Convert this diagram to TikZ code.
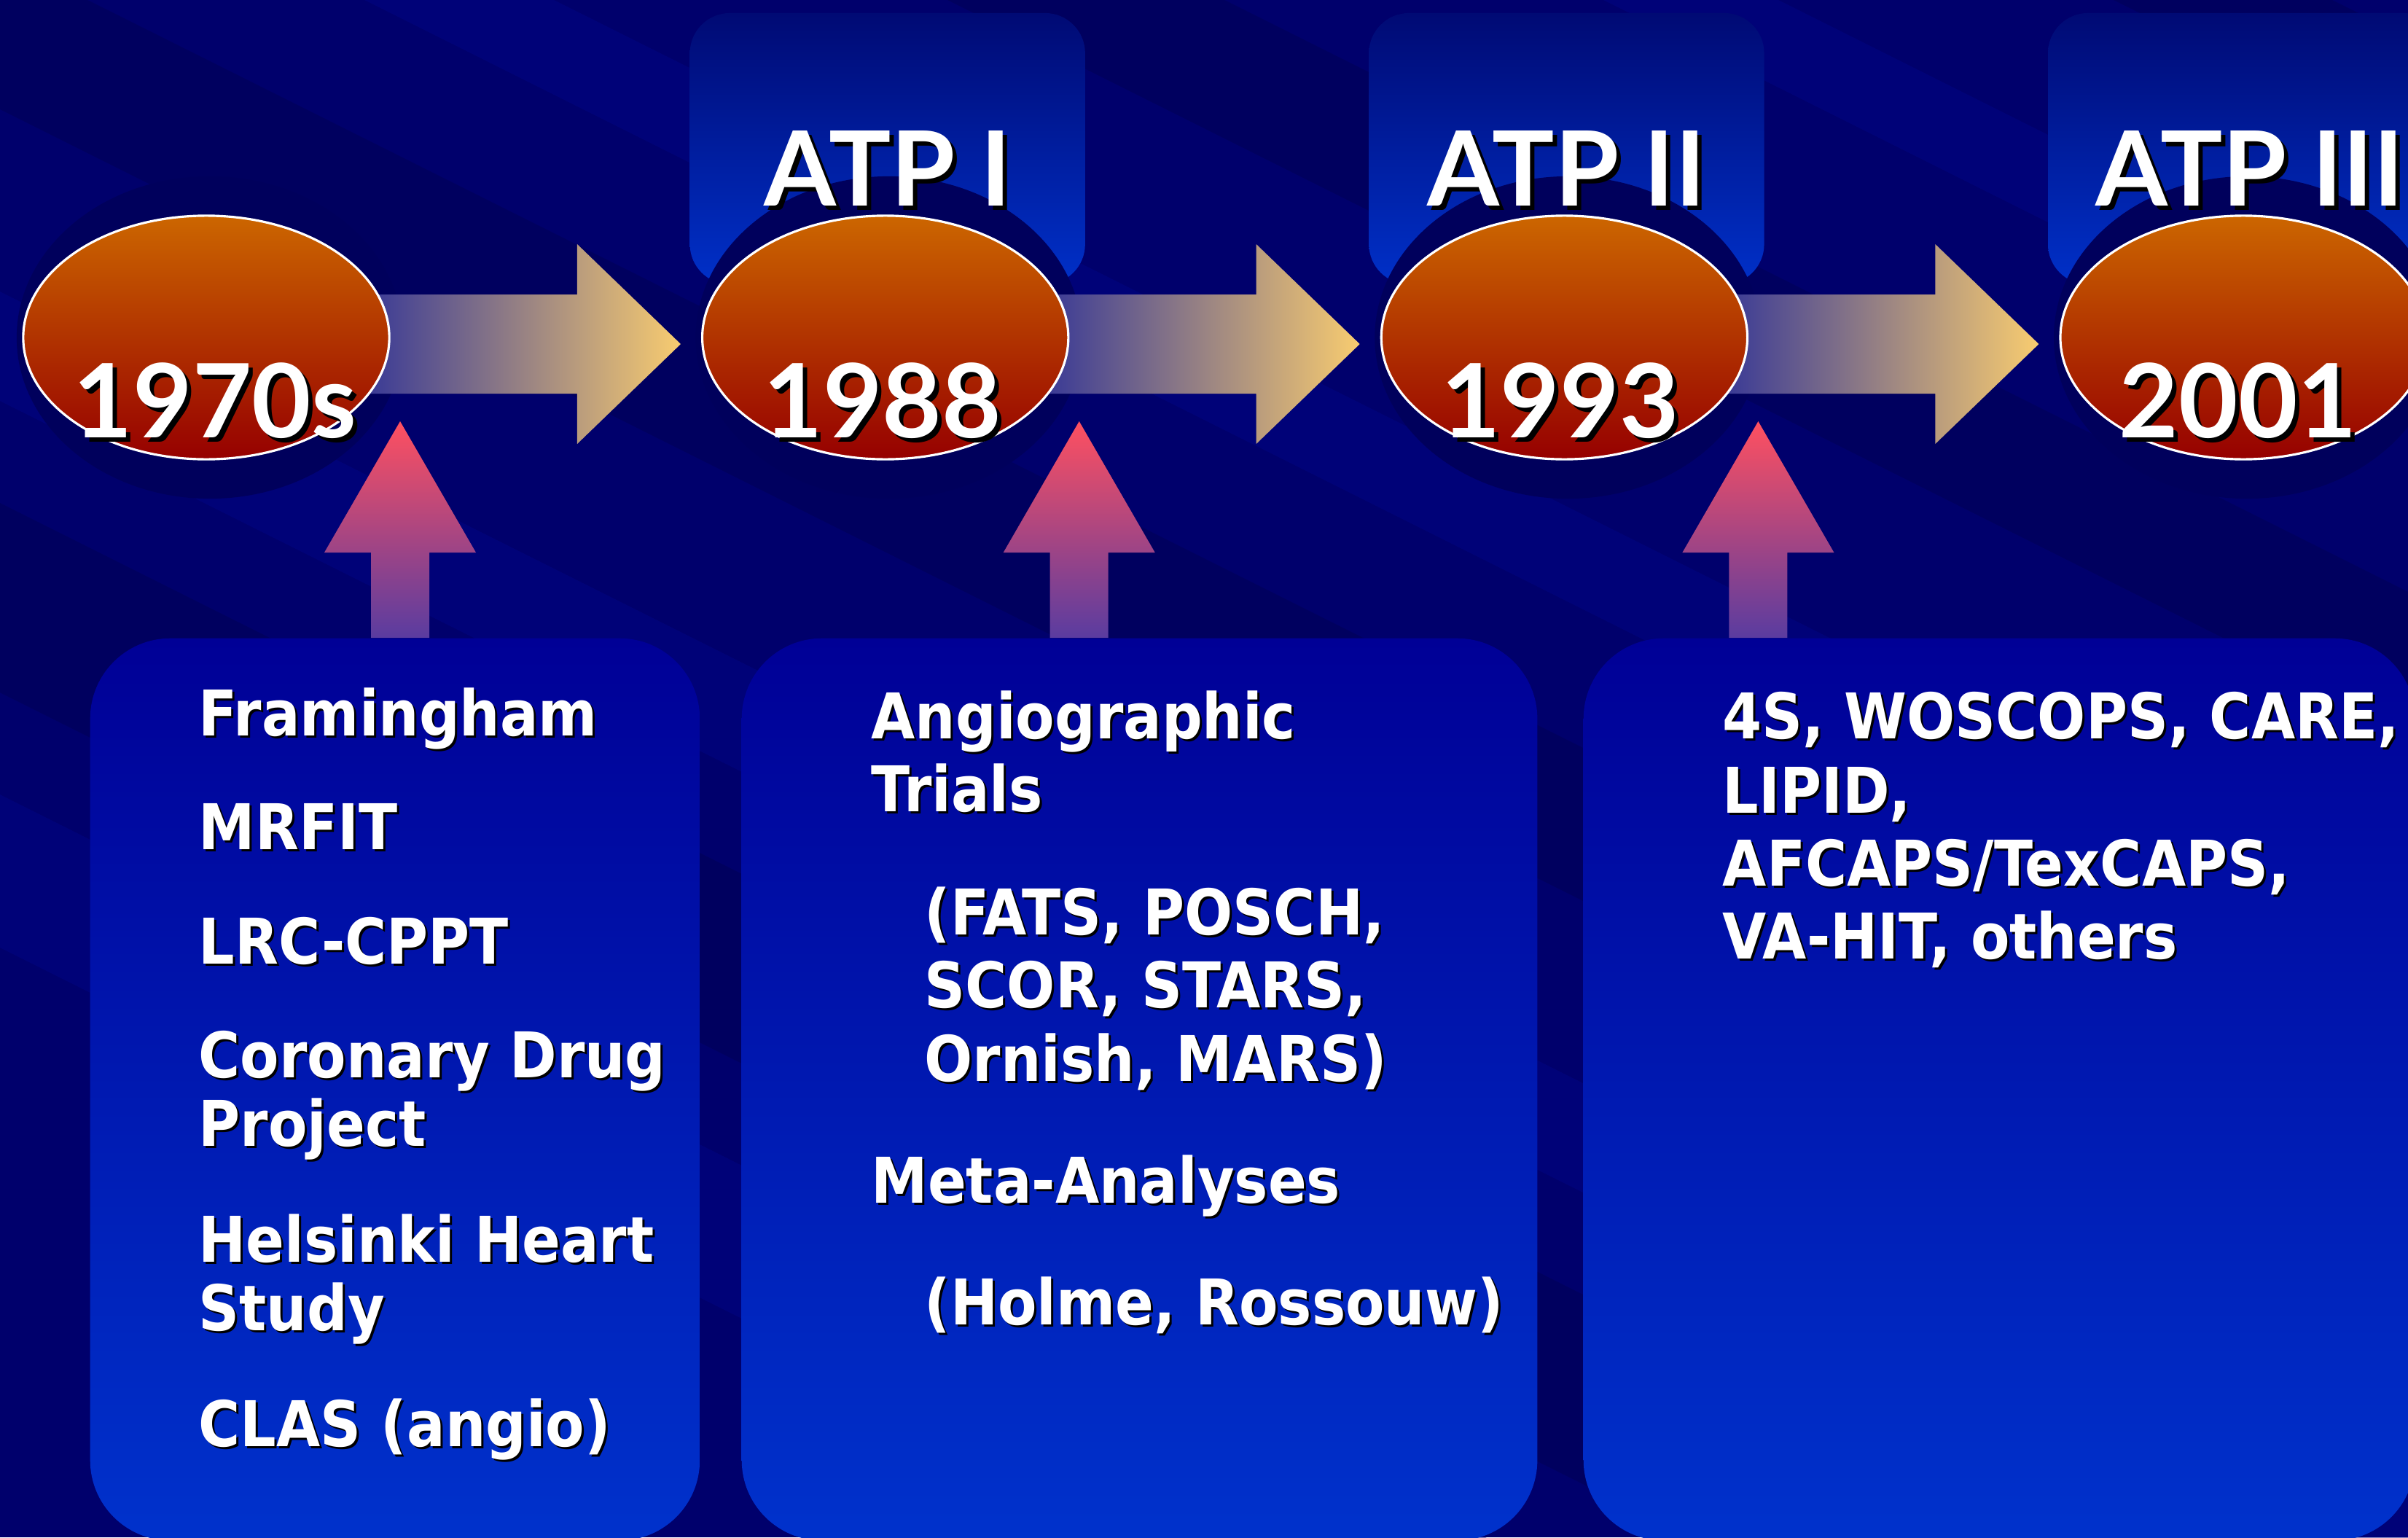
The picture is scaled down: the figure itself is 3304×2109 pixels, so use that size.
\documentclass[tikz,border=0pt]{standalone}
\usepackage{fontspec}
\setmainfont{DejaVu Sans}[FakeStretch=0.9]
\newfontfamily\headfont{Lato}
\usetikzlibrary{calc,positioning,shapes.geometric}
\definecolor{bgnavy}{HTML}{00006C}
\definecolor{bgdark}{HTML}{000050}
\definecolor{bglight}{HTML}{000688}
\definecolor{halo}{HTML}{00005C}
\definecolor{tabtop}{HTML}{000A74}
\definecolor{tabbot}{HTML}{0030C8}
\definecolor{boxtop}{HTML}{000096}
\definecolor{boxbot}{HTML}{0032CC}
\definecolor{ovtop}{HTML}{CC6600}
\definecolor{ovbot}{HTML}{960000}
\definecolor{arrl}{HTML}{3A3A96}
\definecolor{arrr}{HTML}{F8CC70}
\definecolor{uptop}{HTML}{FF5060}
\definecolor{upbot}{HTML}{5A3CA0}
\pgfdeclarelayer{back}
\pgfdeclarelayer{mid}
\pgfsetlayers{back,mid,main}

% text with a small black drop shadow
\newcommand\shd[2]{\rlap{\kern#1\raisebox{-#1}{\textcolor{black}{#2}}}#2}
% block arrows: start, tip
\newcommand\fwdarrow[2]{\shade[fwd] ($(#1)+(0,-68)$) -- ($(#2)+(-142,-68)$) -- ($(#2)+(-142,-137)$) -- (#2) -- ($(#2)+(-142,137)$) -- ($(#2)+(-142,68)$) -- ($(#1)+(0,68)$) -- cycle;}
\newcommand\uparr[2]{\shade[upw] ($(#1)+(-40,0)$) -- ($(#2)+(-40,180)$) -- ($(#2)+(-104,180)$) -- (#2) -- ($(#2)+(104,180)$) -- ($(#2)+(40,180)$) -- ($(#1)+(40,0)$) -- cycle;}

\begin{document}
\begin{tikzpicture}[
    x=0.01cm, y=-0.01cm,
    oval/.style={ellipse, draw=white, line width=0.9pt, minimum width=5.02cm, minimum height=3.34cm, top color=ovtop, bottom color=ovbot, inner sep=0pt},
    glow/.style={ellipse, fill=halo, minimum width=5.3cm, minimum height=4.42cm, inner sep=0pt},
    tab/.style={rounded corners=0.55cm, top color=tabtop, bottom color=tabbot, minimum width=5.42cm, minimum height=3.72cm, inner sep=0pt},
    panel/.style={rounded corners=1.1cm, top color=boxtop, bottom color=boxbot, minimum height=12.37cm, anchor=north west, inner sep=0pt},
    fwd/.style={left color=arrl, right color=arrr},
    upw/.style={top color=uptop, bottom color=upbot},
    year/.style={text=white, font=\headfont\bfseries\fontsize{40pt}{44pt}\selectfont, anchor=base, inner sep=0pt},
    atp/.style={text=white, font=\headfont\bfseries\fontsize{40.5pt}{44pt}\selectfont, anchor=base, inner sep=0pt},
    item/.style={text=white, font=\bfseries\fontsize{24.6pt}{30pt}\selectfont, anchor=base west, inner sep=0pt}
  ]
  \useasboundingbox (0,0) rectangle (3304,2109);

  % timeline ovals
  \node[oval] (y70) at (283,463) {};
  \node[oval, right=4.26cm of y70] (y88) {};
  \node[oval, right=4.26cm of y88] (y93) {};
  \node[oval, right=4.26cm of y93] (y01) {};

  \node[year] (t70) at ($(y70.center)+(12,137)$) {\shd{0.06cm}{1970s}};
  \node[year] (t88) at ($(y88.center)+(-4,137)$) {\shd{0.06cm}{1988}};
  \node[year] (t93) at ($(y93.center)+(-6,137)$) {\shd{0.06cm}{1993}};
  \node[year] (t01) at ($(y01.center)+(-7,137)$) {\shd{0.06cm}{2001}};

  \begin{pgfonlayer}{back}
    \fill[bgnavy] (0,0) rectangle (3304,2109);
    \foreach \xs/\wd/\col in {-2600/420/bglight, -1900/520/bgdark, -1100/300/bglight, -300/420/bgdark, 500/260/bglight, 1300/380/bgdark, 2200/240/bglight, 2900/300/bgdark}
      \fill[\col, opacity=0.45] (\xs,0) -- ++(\wd,0) -- ++(4400,2200) -- ++(-\wd,0) -- cycle;
    \node[tab] (tab1) at ($(y88.center)+(3,-259)$) {};
    \node[tab] (tab2) at ($(y93.center)+(3,-259)$) {};
    \node[tab] (tab3) at ($(y01.center)+(3,-259)$) {};
    \foreach \o in {y70,y88,y93,y01}
      \node[glow] (g\o) at ($(\o.center)+(5,0)$) {};
  \end{pgfonlayer}

  \node[atp] (atp1) at ($(tab1.center)+(0,78)$) {\shd{0.06cm}{ATP I}};
  \node[atp] (atp2) at ($(tab2.center)+(0,78)$) {\shd{0.06cm}{ATP II}};
  \node[atp] (atp3) at ($(tab3.center)+(6,78)$) {\shd{0.06cm}{ATP III}};

  % evidence panels
  \node[panel, minimum width=8.36cm] (b1) at (123,875) {};
  \node[panel, minimum width=10.91cm] (b2) at (1017,875) {};
  \node[panel, minimum width=11.40cm] (b3) at (2172,875) {};

  % arrows
  \begin{pgfonlayer}{mid}
    \foreach \a/\b [count=\i] in {y70/y88, y88/y93, y93/y01} {
      \coordinate (r\i s) at ($(\a.east)+(-30,9)$);
      \coordinate (r\i t) at ($(\b.west)+(-28,9)$);
      \fwdarrow{r\i s}{r\i t}
    }
    \foreach \a/\b [count=\i] in {y70/b1, y88/b2, y93/b3} {
      \coordinate (u\i t) at ($(\a.center)+(266,115)$);
      \coordinate (u\i s) at (u\i t |- \b.north);
      \uparr{u\i s}{u\i t}
    }
  \end{pgfonlayer}

  % panel texts
  \foreach \ty/\txt [count=\i] in {1009/Framingham, 1165/MRFIT, 1322/LRC-CPPT, 1478/Coronary Drug, 1572/Project, 1731/Helsinki Heart, 1825/Study, 1984/CLAS (angio)}
    \node[item] (fa\i) at (272,\ty) {\shd{0.03cm}{\txt}};
  \foreach \tx/\ty/\txt [count=\i] in {1195/1013/Angiographic, 1195/1113/Trials, 1268/1282/{(FATS, POSCH,}, 1268/1382/{SCOR, STARS,}, 1268/1483/{Ornish, MARS)}, 1195/1650/Meta-Analyses, 1268/1817/{(Holme, Rossouw)}}
    \node[item] (fb\i) at (\tx,\ty) {\shd{0.03cm}{\txt}};
  \foreach \ty/\txt [count=\i] in {1013/{4S, WOSCOPS, CARE,}, 1115/{LIPID,}, 1215/{AFCAPS/TexCAPS,}, 1315/{VA-HIT, others}}
    \node[item] (fc\i) at (2363,\ty) {\shd{0.03cm}{\txt}};
\end{tikzpicture}
\end{document}
